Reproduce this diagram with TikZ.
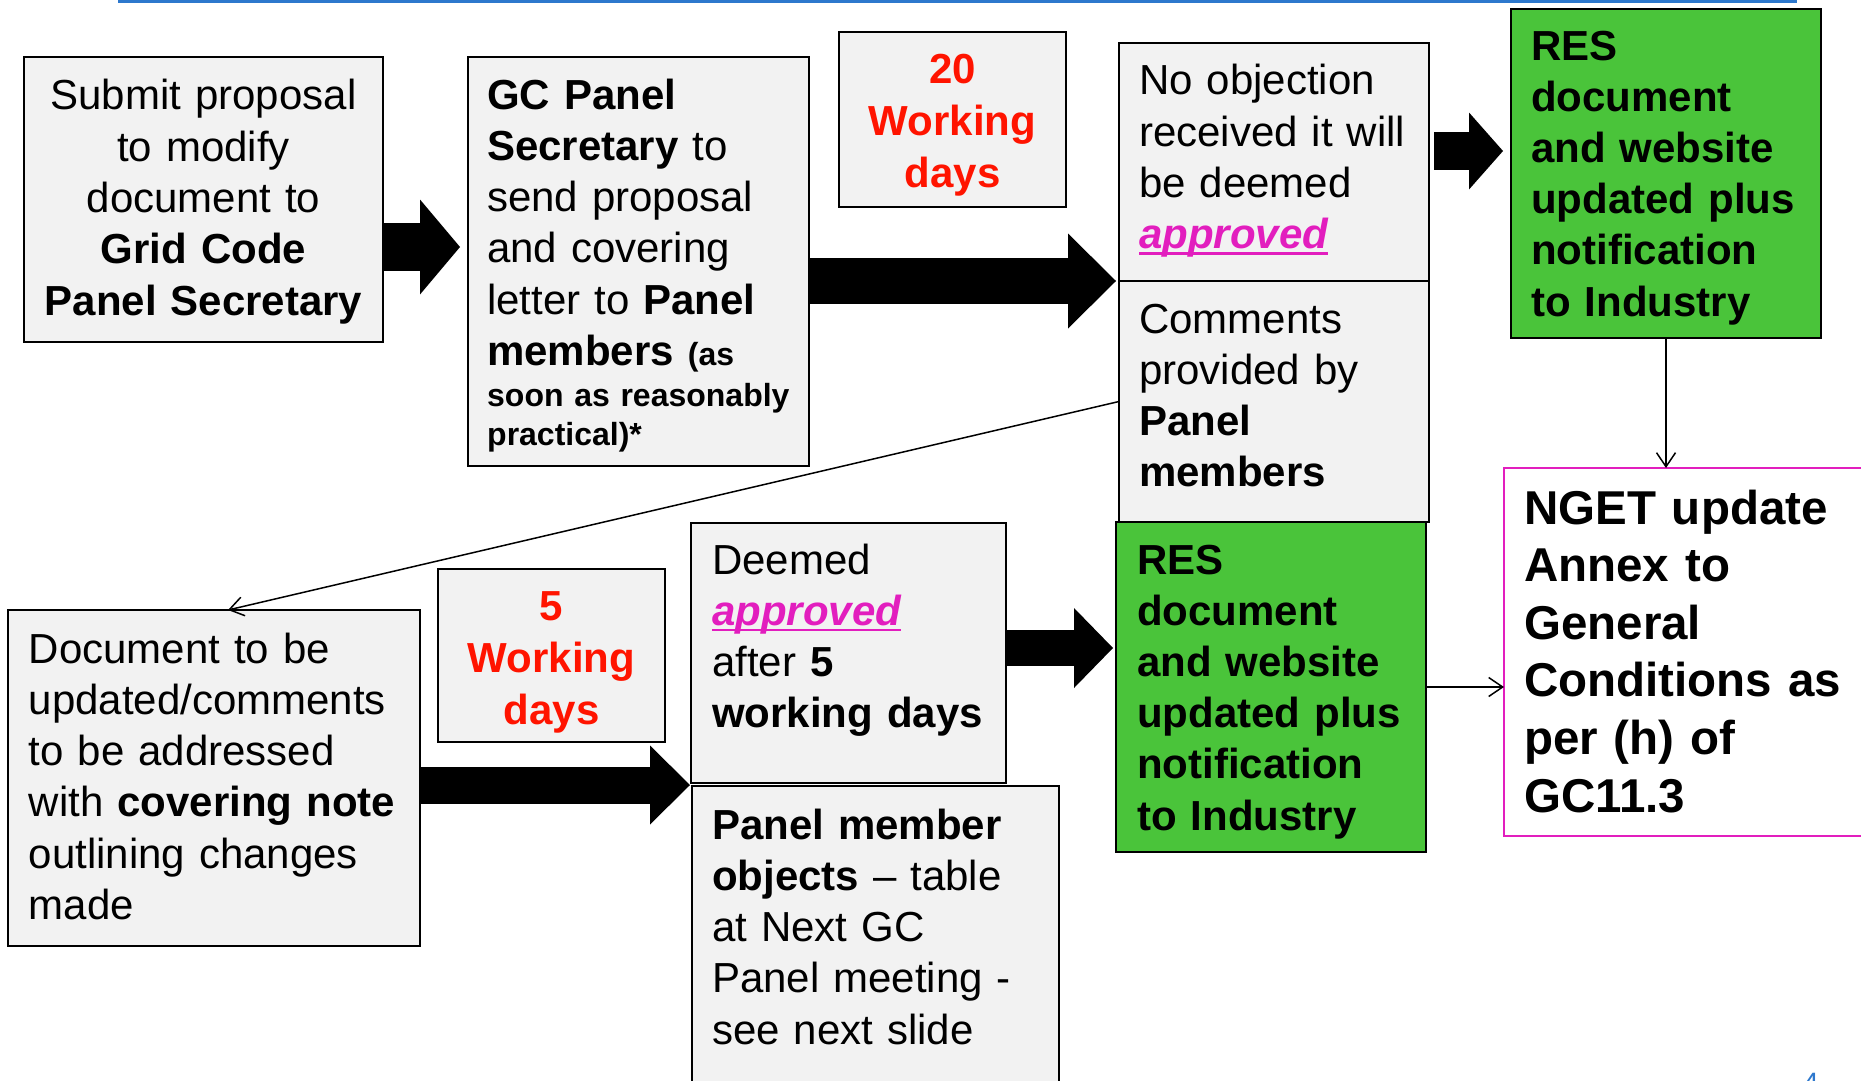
\documentclass[tikz,border=0pt]{standalone}
\usepackage{fontspec}
\setmainfont{Liberation Sans}
\usetikzlibrary{arrows.meta,calc}
\definecolor{boxgray}{HTML}{F2F2F2}
\definecolor{resgreen}{RGB}{74,196,58}
\definecolor{wdred}{RGB}{255,20,0}
\definecolor{apmag}{RGB}{226,30,190}
\definecolor{lineblue}{RGB}{45,120,205}
\newcommand\myul[1]{\leavevmode\setbox0\hbox{#1}\rlap{\rule[-6pt]{\wd0}{2.6pt}}\box0}
\newcommand\apprv{\leavevmode{\color{apmag}\bfseries\itshape\myul{approved}}}
\begin{document}
\begin{tikzpicture}[x=1pt,y=-1pt,
  gbox/.style={draw=black, line width=2pt, fill=boxgray, inner sep=0pt, outer sep=0pt, anchor=north west},
  greenbox/.style={draw=black, line width=2pt, fill=resgreen, inner sep=0pt, outer sep=0pt, anchor=north west},
  ngetbox/.style={draw=apmag, line width=2pt, fill=white, inner sep=0pt, outer sep=0pt, anchor=north west},
  txtl/.style={inner sep=0pt, anchor=base west, align=left, font=\fontsize{42}{51.3}\selectfont},
  txtc/.style={inner sep=0pt, anchor=base, align=center, font=\fontsize{42}{51.3}\selectfont},
  redtxt/.style={txtc, text=wdred, font=\fontsize{42}{52}\selectfont\bfseries},
  blkarrow/.style n args={3}{draw=black, line width=#1, -{Triangle[length=#2,width=#3,line width=0pt]}},
  thinarrow/.style={draw=black, line width=1.5pt, -{Straight Barb[length=14pt,width=19pt,line width=1.5pt]}}
]
\useasboundingbox (0,0) rectangle (1861,1081);
\fill[white] (0,0) rectangle (1861,1081);

% top blue rule
\coordinate (rl) at (118,1.5);
\coordinate (rr) at (1797,1.5);
\draw[lineblue, line width=3pt] (rl) -- (rr);

% boxes
\node[gbox, minimum width=359pt, minimum height=285pt] (b1) at (24,57) {};
\node[gbox, minimum width=341pt, minimum height=409pt] (b2) at (468,57) {};
\node[gbox, minimum width=227pt, minimum height=175pt] (w20) at (839,32) {};
\node[gbox, minimum width=310pt, minimum height=238pt] (bno) at (1119,43) {};
\node[gbox, minimum width=310pt, minimum height=241pt] (bcom) at (1119,281) {};
\node[greenbox, minimum width=310pt, minimum height=329pt] (gtop) at (1511,9) {};
\node[ngetbox, minimum width=370pt, minimum height=368pt] (nget) at (1504,468) {};
\node[gbox, minimum width=412pt, minimum height=336pt] (bdoc) at (8,610) {};
\node[gbox, minimum width=227pt, minimum height=173pt] (w5) at (438,569) {};
\node[gbox, minimum width=315pt, minimum height=260pt] (bdeem) at (691,523) {};
\node[gbox, minimum width=367pt, minimum height=310pt] (bpan) at (692,786) {};
\node[greenbox, minimum width=310pt, minimum height=330pt] (gbot) at (1116,522) {};

% texts
\node[txtc, text width=359pt] (t1) at (203.5,110) {Submit proposal\\to modify\\document to\\\textbf{Grid Code}\\\textbf{Panel Secretary}};
\node[txtl, text width=320pt] (t2) at (487,109) {\textbf{GC Panel}\\\textbf{Secretary} to\\send proposal\\and covering\\letter to \textbf{Panel}\\\textbf{members} {\fontsize{32}{39}\selectfont\bfseries(as}};
\node[txtl, text width=320pt, font=\fontsize{32}{39}\selectfont\bfseries] (t2b) at (487,406) {soon as reasonably\\practical)*};
\node[redtxt, text width=227pt] (t20) at (952.5,84) {20\\Working\\days};
\node[txtl, text width=300pt] (tno) at (1139,95) {No objection\\received it will\\be deemed\\\apprv};
\node[txtl, text width=300pt] (tcom) at (1139,333) {Comments\\provided by\\\textbf{Panel}\\\textbf{members}};
\node[txtl, text width=300pt, font=\fontsize{42}{51.2}\selectfont\bfseries] (tgt) at (1531,60) {RES\\document\\and website\\updated plus\\notification\\to Industry};
\node[txtl, text width=360pt, font=\fontsize{47.5}{57.6}\selectfont\bfseries] (tng) at (1524,524) {NGET update\\Annex to\\General\\Conditions as\\per (h) of\\GC11.3};
\node[txtl, text width=400pt] (tdoc) at (28.5,663) {Document to be\\updated/comments\\to be addressed\\with \textbf{covering note}\\outlining changes\\made};
\node[redtxt, text width=227pt] (t5) at (551.5,620) {5\\Working\\days};
\node[txtl, text width=300pt] (tdeem) at (712,574) {Deemed\\\apprv\\after \textbf{5}\\\textbf{working days}};
\node[txtl, text width=350pt] (tpan) at (712,839) {\textbf{Panel member}\\\textbf{objects} -- table\\at Next GC\\Panel meeting -\\see next slide};
\node[txtl, text width=300pt, font=\fontsize{42}{51.2}\selectfont\bfseries] (tgb) at (1137,574) {RES\\document\\and website\\updated plus\\notification\\to Industry};

% page number
\node[inner sep=0pt, anchor=base west, text=lineblue, font=\fontsize{28}{34}\selectfont] (pg) at (1803,1092) {4};

% block arrows
\draw[blkarrow={48pt}{40pt}{95pt}] (b1.east |- 0,247) -- ($(b2.west |- 0,247)+(-8,0)$);
\draw[blkarrow={46pt}{48pt}{95pt}] (b2.east |- 0,281) -- ($(bno.south west)+(-3,0)$);
\draw[blkarrow={38pt}{34pt}{77pt}] ($(bno.east |- 0,151)+(5,0)$) -- ($(gtop.west |- 0,151)+(-8,0)$);
\draw[blkarrow={37pt}{40pt}{79pt}] (bdoc.east |- 0,785) -- ($(bdeem.west |- 0,785)+(-1,0)$);
\draw[blkarrow={36pt}{39pt}{80pt}] (bdeem.east |- 0,648) -- ($(gbot.west |- 0,648)+(-3,0)$);

% thin connectors
\draw[thinarrow] (gtop.south) -- (gtop.south |- nget.north);
\draw[thinarrow] (gbot.east) -- (gbot.east -| nget.west);
\draw[thinarrow] (bcom.west) -- ($(bdoc.north)+(14,0)$);
\end{tikzpicture}
\end{document}
